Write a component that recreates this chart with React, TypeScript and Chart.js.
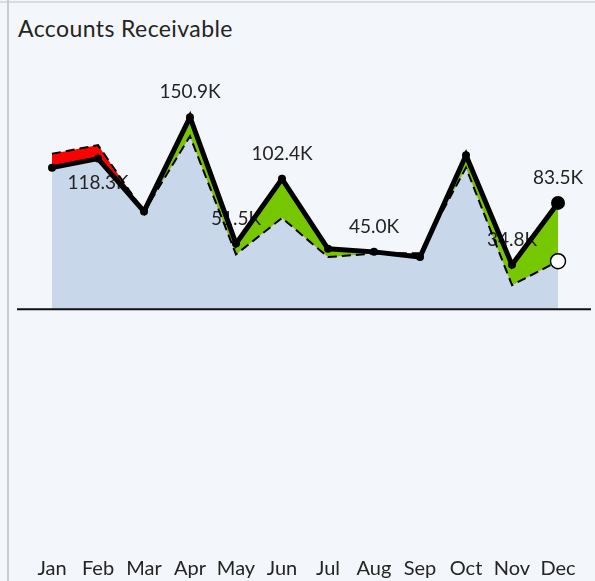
import React, { useEffect, useRef } from "react";
import { Chart, registerables } from "chart.js";

Chart.register(...registerables);

const months = ["Jan", "Feb", "Mar", "Apr", "May", "Jun", "Jul", "Aug", "Sep", "Oct", "Nov", "Dec"];
const actualK = [111.2, 118.3, 76.8, 150.9, 51.5, 102.4, 47.4, 45.0, 40.9, 120.9, 34.8, 83.5];
const planK = [122.1, 128.9, 76.5, 135.9, 43.0, 71.6, 40.9, 43.7, 44.0, 111.2, 18.8, 37.7];
const labelled = [false, true, false, true, true, true, false, true, false, false, true, true];

const FONT = "Lato, 'Noto Sans', sans-serif";

export default function App() {
  const ref = useRef<HTMLCanvasElement | null>(null);

  useEffect(() => {
    document.body.style.margin = "0";
    const ctx = ref.current!.getContext("2d")!;
    const last = months.length - 1;

    const baseline = {
      id: "baseline",
      afterDatasetsDraw(chart: any) {
        const y = chart.scales.y.getPixelForValue(0);
        const c = chart.ctx;
        c.save();
        c.strokeStyle = "#111111";
        c.lineWidth = 2;
        c.beginPath();
        c.moveTo(17, y);
        c.lineTo(591, y);
        c.stroke();
        c.restore();
      },
    };

    const labels = {
      id: "valueLabels",
      beforeDatasetsDraw(chart: any) {
        const c = chart.ctx;
        const xs = chart.scales.x;
        const ys = chart.scales.y;
        c.save();
        c.font = `19px ${FONT}`;
        c.fillStyle = "#252423";
        c.textAlign = "center";
        c.textBaseline = "middle";
        actualK.forEach((v, i) => {
          if (!labelled[i]) return;
          const x = xs.getPixelForValue(i);
          const y = ys.getPixelForValue(v);
          const below = planK[i] > v;
          const dy = below ? 24 : -25;
          c.fillText(v.toFixed(1) + "K", x, y + dy);
        });
        c.restore();
      },
    };

    const chart = new Chart(ctx, {
      type: "line",
      data: {
        labels: months,
        datasets: [
          {
            label: "Plan",
            data: planK,
            order: 2,
            borderColor: "#000000",
            borderWidth: 2,
            borderDash: [9, 5],
            backgroundColor: "#C8D7EA",
            fill: "origin",
            tension: 0,
            pointRadius: planK.map((_, i) => (i === last ? 7.5 : 0)),
            pointBackgroundColor: "#FFFFFF",
            pointBorderColor: "#000000",
            pointBorderWidth: 1.5,
          },
          {
            label: "Actual",
            data: actualK,
            order: 1,
            borderColor: "#000000",
            borderWidth: 5,
            backgroundColor: "#000000",
            fill: { target: 0, above: "#76C700", below: "#FF0000" },
            tension: 0,
            pointRadius: actualK.map((_, i) => (i === last ? 7 : 4)),
            pointBackgroundColor: "#000000",
            pointBorderColor: "#000000",
            pointBorderWidth: 0,
          },
        ],
      },
      options: {
        animation: false,
        responsive: false,
        maintainAspectRatio: false,
        layout: { padding: { left: 52, right: 37, top: 60, bottom: 8 } },
        plugins: {
          legend: { display: false },
          tooltip: { enabled: false },
          title: { display: false },
          filler: { drawTime: "beforeDatasetsDraw" },
        },
        scales: {
          x: {
            offset: false,
            grid: { display: false, drawTicks: false },
            border: { display: false },
            ticks: { color: "#252423", font: { family: FONT, size: 20 }, padding: 6, maxRotation: 0, autoSkip: false },
          },
          y: {
            display: false,
            min: -190.1,
            max: 195.8,
          },
        },
      } as any,
      plugins: [labels, baseline],
    });
    return () => chart.destroy();
  }, []);

  return (
    <div style={{ position: "absolute", left: 0, top: 0, width: 595, height: 581, background: "#F3F6FA", overflow: "hidden" }}>
      <div style={{ position: "absolute", left: 0, top: 1, width: 595, height: 2, background: "#D9DDE1" }} />
      <div style={{ position: "absolute", left: 7, top: 0, width: 2, height: 581, background: "#C9CCD0" }} />
      <div
        style={{
          position: "absolute",
          left: 18,
          top: 13,
          fontFamily: FONT,
          fontSize: 23,
          letterSpacing: "0.4px",
          color: "#252423",
          lineHeight: "30px",
          whiteSpace: "nowrap",
        }}
      >
        Accounts Receivable
      </div>
      <canvas ref={ref} width={595} height={595} style={{ position: "absolute", left: 0, top: 0 }} />
    </div>
  );
}
